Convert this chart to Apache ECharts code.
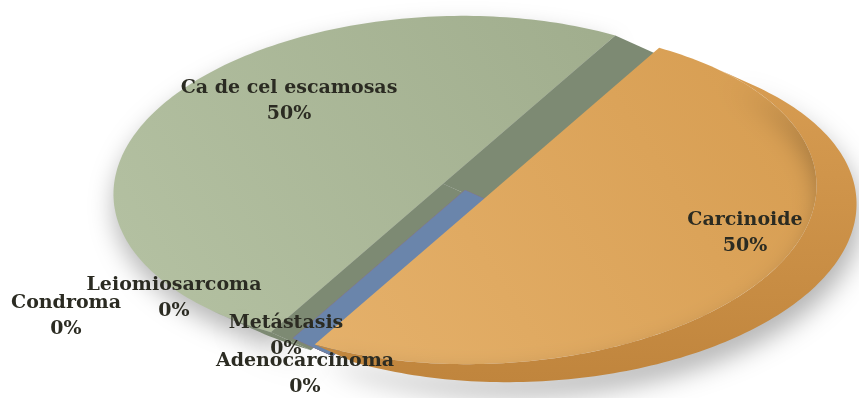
<!DOCTYPE html>
<html>
<head>
<meta charset="utf-8">
<script src="https://cdn.jsdelivr.net/npm/echarts@6/dist/echarts.min.js"></script>
<style>
  html, body { margin: 0; padding: 0; background: #fff; }
  #chart { width: 859px; height: 398px; }
</style>
</head>
<body>
<div id="chart"></div>
<script>
// data
const categories = ['Carcinoide', 'Metástasis', 'Leiomiosarcoma', 'Condroma', 'Adenocarcinoma', 'Ca de cel escamosas']
const values = [50, 0, 0, 0, 0, 50]

// styles (top face gradient and side colour per slice)
const topColors = [['#e5b16b', '#d69c50'], ['#8064a2'], ['#4bacc6'], ['#c0504d'], ['#6a84aa'], ['#b5c2a3', '#a0ad8d']]
const sideColors = [['#d89d52', '#c0853d'], ['#8064a2'], ['#4bacc6'], ['#c0504d'], ['#6a85ab'], ['#7d8a73']]

// label layout (text block centres)
const labelPos = {
    'Carcinoide': [745, 233],
    'Ca de cel escamosas': [289, 101],
    'Leiomiosarcoma': [174, 298],
    'Condroma': [66, 316],
    'Metástasis': [286, 336],
    'Adenocarcinoma': [305, 374]
}

// pie geometry: ellipse, explode fraction, oblique depth vector, slight shear for the 3D view
const CX = 465, CY = 190, RX = 329, RY = 168, EXPLODE = 0.078
const DX = 40, DY = 18, SHEAR = 0.12
const START_DEG = -62

const total = values.reduce((a, b) => a + b, 0)
const slices = []
let acc = START_DEG
values.forEach(v => {
    const sweep = v / total * 360
    slices.push({ a0: acc * Math.PI / 180, a1: (acc + sweep) * Math.PI / 180 })
    acc += sweep
})

function grad(cs, x0, y0, x1, y1) {
    if (cs.length < 2) return cs[0]
    return new echarts.graphic.LinearGradient(x0, y0, x1, y1, [
        { offset: 0, color: cs[0] },
        { offset: 1, color: cs[1] }
    ])
}

function project(x, y) {
    return [x - SHEAR * (y - CY), y]
}

function renderItem(params, api) {
    const i = params.dataIndex
    const v = api.value(0)
    const s = slices[i]
    const mid = (s.a0 + s.a1) / 2
    // only slices with area are pulled out
    const ex = v > 0 ? EXPLODE : 0
    const cx = CX + ex * RX * Math.cos(mid), cy = CY + ex * RY * Math.sin(mid)
    const c = project(cx, cy)
    const cd = [c[0] + DX, c[1] + DY]
    const rim = (t, d) => {
        const p = project(cx + RX * Math.cos(t), cy + RY * Math.sin(t))
        return d ? [p[0] + DX, p[1] + DY] : p
    }
    const arc = (t0, t1, d) => {
        const n = Math.max(2, Math.ceil(Math.abs(t1 - t0) / 0.02))
        const pts = []
        for (let k = 0; k <= n; k++) pts.push(rim(t0 + (t1 - t0) * k / n, d))
        return pts
    }
    const face = t => [c, rim(t, false), rim(t, true), cd]
    const base = v > 0 ? (Math.sin(mid) > 0 ? 20 : 0) : 10
    const shadow = { shadowColor: 'rgba(0,0,0,0.3)', shadowBlur: 26, shadowOffsetY: 14, shadowOffsetX: 4 }
    const children = []

    // top face first, its shadow is then covered by the side faces
    if (v > 0) {
        children.push({
            type: 'polygon',
            shape: { points: [c].concat(arc(s.a0, s.a1, false)) },
            style: Object.assign({ fill: grad(topColors[i], 0, 1, 1, 0) },
                base === 0 ? { shadowColor: 'rgba(0,0,0,0.28)', shadowBlur: 24, shadowOffsetY: 12 } : {}),
            z2: base
        })
    }
    // rim side, where the outward normal faces the depth vector
    if (v > 0) {
        const phi = Math.atan2(DY / RY, DX / RX)
        for (let k = -1; k <= 1; k++) {
            const f0 = Math.max(s.a0, phi - Math.PI / 2 + k * 2 * Math.PI)
            const f1 = Math.min(s.a1, phi + Math.PI / 2 + k * 2 * Math.PI)
            if (f1 > f0) {
                children.push({
                    type: 'polygon',
                    shape: { points: arc(f0, f1, false).concat(arc(f1, f0, true)) },
                    style: Object.assign({ fill: grad(sideColors[i], 0, 0, 0, 1) }, shadow),
                    z2: base + 1
                })
            }
        }
    }
    // radial faces
    const n0 = RY * Math.sin(s.a0) * DX - RX * Math.cos(s.a0) * DY
    if (n0 > 0) {
        children.push({ type: 'polygon', shape: { points: face(s.a0) }, style: { fill: grad(sideColors[i], 0, 0, 1, 1) }, z2: base + 1 })
    }
    const n1 = -RY * Math.sin(s.a1) * DX + RX * Math.cos(s.a1) * DY
    if (v > 0 && n1 > 0) {
        children.push({ type: 'polygon', shape: { points: face(s.a1) }, style: { fill: grad(sideColors[i], 0, 0, 1, 1) }, z2: base + 1 })
    }
    // label
    const pos = labelPos[categories[i]]
    children.push({
        type: 'text',
        style: {
            text: categories[i] + '\n' + Math.round(v / total * 100) + '%',
            x: pos[0],
            y: pos[1],
            align: 'center',
            verticalAlign: 'middle',
            fill: '#2b2b22',
            font: 'bold 19px "DejaVu Serif"',
            lineHeight: 26
        },
        z2: 50
    })
    return { type: 'group', children: children }
}

const chart = echarts.init(document.getElementById('chart'))
chart.setOption({
    backgroundColor: '#fff',
    animation: false,
    series: [{
        type: 'custom',
        coordinateSystem: 'none',
        silent: true,
        renderItem: renderItem,
        data: values.map((v, i) => ({ name: categories[i], value: [v] }))
    }]
})
</script>
</body>
</html>
